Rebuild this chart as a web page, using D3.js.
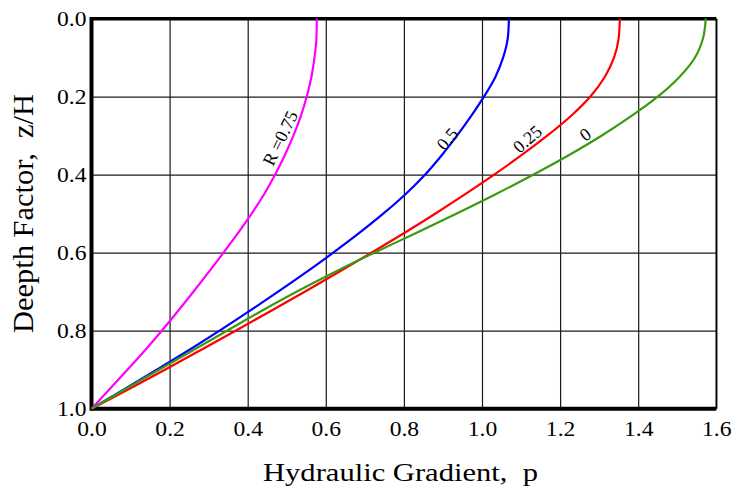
<!DOCTYPE html>
<html><head><meta charset="utf-8">
<script src="https://cdn.jsdelivr.net/npm/d3@7"></script>
<style>body{margin:0;background:#fff} svg{display:block} text{white-space:pre}</style>
</head><body>
<script>
// depth factor z/H (rows) and hydraulic gradient p for each R
const depth = [0,0.05,0.1,0.15,0.2,0.25,0.3,0.35,0.4,0.45,0.5,0.55,0.6,0.65,0.7,0.75,0.8,0.85,0.9,0.95,1.0];
const gradR075 = [0.577,0.576,0.571,0.563,0.551,0.536,0.517,0.495,0.470,0.442,0.410,0.375,0.338,0.300,0.261,0.221,0.180,0.137,0.092,0.046,0];
const gradR050 = [1.069,1.066,1.054,1.034,1.005,0.972,0.936,0.897,0.854,0.804,0.747,0.685,0.619,0.550,0.478,0.404,0.328,0.249,0.167,0.084,0];
const gradR025 = [1.353,1.350,1.338,1.314,1.277,1.227,1.167,1.101,1.031,0.957,0.880,0.800,0.717,0.632,0.546,0.458,0.369,0.279,0.188,0.095,0];
const gradR000 = [1.573,1.566,1.545,1.505,1.450,1.382,1.306,1.222,1.131,1.035,0.934,0.830,0.724,0.622,0.525,0.434,0.347,0.260,0.173,0.086,0];
const seriesLabels = ["R =0.75","0.5","0.25","0"];
const seriesColors = ["#ff00ff","#0000ff","#ff0000","#3a9a12"];
// label anchor (p, z/H) and rotation
const labelP = [0.483,0.911,1.116,1.264];
const labelZ = [0.306,0.308,0.308,0.296];
const labelAngle = [-64,-50,-41,-38];
const xTicks = [0,0.2,0.4,0.6,0.8,1.0,1.2,1.4,1.6];
const yTicks = [0,0.2,0.4,0.6,0.8,1.0];
const xTitle = "Hydraulic Gradient,  p";
const yTitle = "Deepth Factor,  z/H";

const W = 735, H = 489;
const L = 91.5, R = 716.3, T = 18.7, B = 408.7;
const svg = d3.select("body").append("svg").attr("width", W).attr("height", H);
const x = d3.scaleLinear().domain([0,1.6]).range([L,R]);
const y = d3.scaleLinear().domain([0,1]).range([T,B]);
const font = "'Liberation Serif','Times New Roman',serif";

// grid
const gx = svg.append("g").attr("transform",`translate(0,${B})`)
  .call(d3.axisBottom(x).tickValues(xTicks).tickSize(-(B-T)).tickFormat(d3.format(".1f")).tickPadding(12));
const gy = svg.append("g").attr("transform",`translate(${L},0)`)
  .call(d3.axisLeft(y).tickValues(yTicks).tickSize(-(R-L)).tickFormat(d3.format(".1f")).tickPadding(5));
[gx,gy].forEach(g=>{
  g.select(".domain").remove();
  g.selectAll(".tick line").attr("stroke","#1a1a1a").attr("stroke-width",1.2);
  g.selectAll(".tick text").attr("font-family",font).attr("font-size",22).attr("fill","#000")
    .attr("textLength",29.5).attr("lengthAdjust","spacingAndGlyphs");
});
gy.selectAll(".tick text").attr("dy","0.3em");

// frame
svg.append("line").attr("x1",L).attr("x2",R).attr("y1",T).attr("y2",T).attr("stroke","#000").attr("stroke-width",3.5);
svg.append("line").attr("x1",L).attr("x2",R).attr("y1",B).attr("y2",B).attr("stroke","#000").attr("stroke-width",4);
svg.append("line").attr("x1",L).attr("x2",L).attr("y1",T-1.7).attr("y2",B+2).attr("stroke","#000").attr("stroke-width",4);
svg.append("line").attr("x1",R).attr("x2",R).attr("y1",T).attr("y2",B).attr("stroke","#000").attr("stroke-width",1.6);

// curves
const series = [gradR075,gradR050,gradR025,gradR000];
const line = d3.line().x(d=>x(d[0])).y(d=>y(d[1])).curve(d3.curveMonotoneY);
series.forEach((s,i)=>{
  svg.append("path").datum(s.map((p,j)=>[p,depth[j]]))
    .attr("d",line).attr("fill","none").attr("stroke",seriesColors[i]).attr("stroke-width",2.2);
});
// curve labels
seriesLabels.forEach((t,i)=>{
  svg.append("text").attr("transform",`translate(${x(labelP[i])},${y(labelZ[i])}) rotate(${labelAngle[i]})`)
    .attr("text-anchor","middle").attr("dy","0.35em")
    .attr("font-family",font).attr("font-size",18).text(t);
});

// titles
svg.append("text").attr("x",(263+538)/2).attr("y",481).attr("text-anchor","middle")
  .attr("font-family",font).attr("font-size",26).attr("textLength",275).attr("lengthAdjust","spacingAndGlyphs").text(xTitle);
svg.append("text").attr("transform",`translate(33,213.5) rotate(-90)`).attr("text-anchor","middle")
  .attr("font-family",font).attr("font-size",30).attr("textLength",239).attr("lengthAdjust","spacingAndGlyphs").text(yTitle);
</script>
</body></html>
